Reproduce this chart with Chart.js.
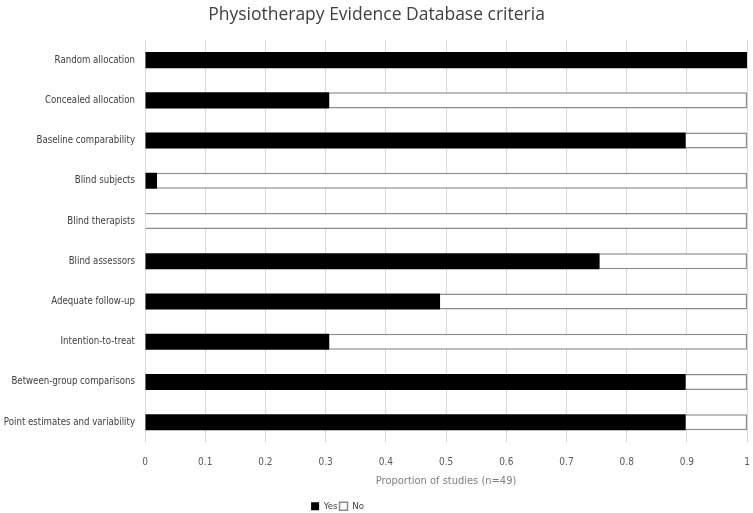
<!DOCTYPE html>
<html>
<head>
<meta charset="utf-8">
<script src="https://cdn.jsdelivr.net/npm/chart.js@4.4.1/dist/chart.umd.min.js"></script>
<style>
  html, body { margin: 0; padding: 0; background: #fff; }
  #wrap { width: 753px; height: 513px; }
</style>
</head>
<body>
<div id="wrap"><canvas id="pedro"></canvas></div>
<script>
// PEDro criteria, proportion of 49 studies
const criteria = [
  'Random allocation',
  'Concealed allocation',
  'Baseline comparability',
  'Blind subjects',
  'Blind therapists',
  'Blind assessors',
  'Adequate follow-up',
  'Intention-to-treat',
  'Between-group comparisons',
  'Point estimates and variability'
];
const yesValues = [1, 0.306, 0.898, 0.02, 0, 0.755, 0.49, 0.306, 0.898, 0.898];
const noValues = [0, 0.694, 0.102, 0.98, 1, 0.245, 0.51, 0.694, 0.102, 0.102];
const xTickLabels = ['0', '0.1', '0.2', '0.3', '0.4', '0.5', '0.6', '0.7', '0.8', '0.9', '1'];

const fontFamily = '"DejaVu Sans Condensed", "Liberation Sans", sans-serif';

// the legend sits a bit left of centre in the original
const legendNudge = {
  id: 'legendNudge',
  afterLayout(chart) {
    chart.legend.left -= 39;
    chart.legend.right -= 39;
  }
};

new Chart(document.getElementById('pedro').getContext('2d'), {
  type: 'bar',
  data: {
    labels: criteria,
    datasets: [
      {
        label: 'Yes',
        data: yesValues,
        backgroundColor: '#000000',
        borderColor: '#000000',
        borderWidth: 0,
        barPercentage: 0.4,
        categoryPercentage: 1
      },
      {
        label: 'No',
        data: noValues,
        backgroundColor: '#ffffff',
        borderColor: '#8c8c8c',
        borderWidth: 1.5,
        barPercentage: 0.4,
        categoryPercentage: 1
      }
    ]
  },
  options: {
    indexAxis: 'y',
    responsive: true,
    maintainAspectRatio: false,
    animation: false,
    layout: { padding: { left: 0, right: 0, top: 0, bottom: -8 } },
    scales: {
      x: {
        stacked: true,
        min: 0,
        max: 1,
        border: { display: false },
        // invisible tick marks push the labels down without padding the right edge
        grid: { color: '#d9d9d9', drawTicks: true, tickLength: 11, tickColor: 'rgba(0,0,0,0)' },
        ticks: {
          stepSize: 0.1,
          padding: 3,
          color: '#595959',
          font: { family: fontFamily, size: 10 },
          callback: (val, i) => xTickLabels[i]
        },
        title: {
          display: true,
          text: 'Proportion of studies (n=49)',
          color: '#808080',
          font: { family: fontFamily, size: 11 },
          padding: { top: 3, bottom: 12 }
        }
      },
      y: {
        stacked: true,
        border: { display: false },
        grid: { display: false, drawTicks: false },
        ticks: {
          color: '#404040',
          padding: 10,
          font: { family: fontFamily, size: 9.6 }
        },
        afterFit: scale => { scale.width = 145; }
      }
    },
    plugins: {
      title: {
        display: true,
        text: 'Physiotherapy Evidence Database criteria',
        color: '#404040',
        font: { family: '"Open Sans", sans-serif', size: 17.5, weight: 'normal' },
        padding: { top: 5, bottom: 14 }
      },
      legend: {
        position: 'bottom',
        labels: {
          boxWidth: 8,
          boxHeight: 8,
          padding: 2,
          color: '#404040',
          font: { family: fontFamily, size: 9.5 }
        }
      },
      tooltip: { enabled: false }
    }
  },
  plugins: [legendNudge]
});
</script>
</body>
</html>
